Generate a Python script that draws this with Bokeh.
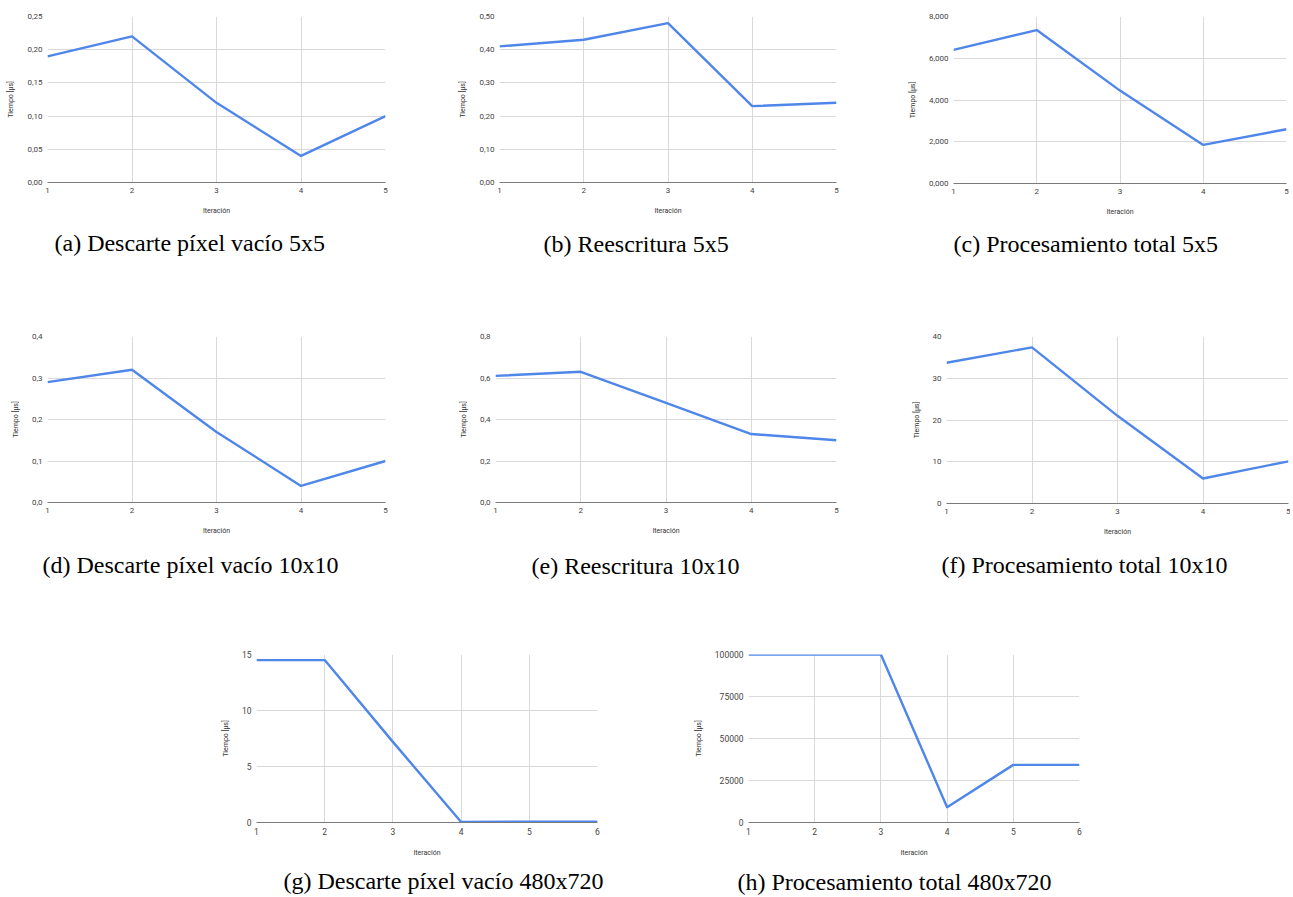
from bokeh.plotting import figure
from bokeh.models import Range1d, FixedTicker, Title
from bokeh.layouts import column, row
from bokeh.embed import file_html
from bokeh.resources import INLINE

# ---------------- data ----------------
iter5 = [1, 2, 3, 4, 5]
iter6 = [1, 2, 3, 4, 5, 6]

descarte_5x5 = [0.19, 0.22, 0.12, 0.04, 0.10]
reescritura_5x5 = [0.41, 0.43, 0.48, 0.23, 0.24]
total_5x5 = [6400, 7350, 4450, 1850, 2600]

descarte_10x10 = [0.29, 0.32, 0.17, 0.04, 0.10]
reescritura_10x10 = [0.61, 0.63, 0.48, 0.33, 0.30]
total_10x10 = [33.7, 37.4, 21.0, 6.0, 10.1]

descarte_480x720 = [14.5, 14.5, 7.2, 0.05, 0.07, 0.08]
total_480x720 = [100000, 100000, 100000, 9100, 34300, 34300]

yt_a = [0, 0.05, 0.10, 0.15, 0.20, 0.25]
yl_a = ["0,00", "0,05", "0,10", "0,15", "0,20", "0,25"]
yt_b = [0, 0.1, 0.2, 0.3, 0.4, 0.5]
yl_b = ["0,00", "0,10", "0,20", "0,30", "0,40", "0,50"]
yt_c = [0, 2000, 4000, 6000, 8000]
yl_c = ["0,000", "2,000", "4,000", "6,000", "8,000"]
yt_d = [0, 0.1, 0.2, 0.3, 0.4]
yl_d = ["0,0", "0,1", "0,2", "0,3", "0,4"]
yt_e = [0, 0.2, 0.4, 0.6, 0.8]
yl_e = ["0,0", "0,2", "0,4", "0,6", "0,8"]
yt_f = [0, 10, 20, 30, 40]
yl_f = ["0", "10", "20", "30", "40"]
yt_g = [0, 5, 10, 15]
yl_g = ["0", "5", "10", "15"]
yt_h = [0, 25000, 50000, 75000, 100000]
yl_h = ["0", "25000", "50000", "75000", "100000"]

captions = [
    "(a) Descarte píxel vacío 5x5",
    "(b) Reescritura 5x5",
    "(c) Procesamiento total 5x5",
    "(d) Descarte píxel vacío 10x10",
    "(e) Reescritura 10x10",
    "(f) Procesamiento total 10x10",
    "(g) Descarte píxel vacío 480x720",
    "(h) Procesamiento total 480x720",
]

XLABEL = "Iteración"
YLABEL = "Tiempo [µs]"
LINE = "#4f86ea"
GRID = "#d9d9d9"


def make_fig(xs, ys, yticks, ylabels, ymax, caption,
             left, fw, right, top, fh, bottom, cap_off, cap_standoff,
             tick_size="8px"):
    p = figure(output_backend="svg", toolbar_location=None,
               frame_width=fw, frame_height=fh,
               min_border_left=left, min_border_right=right,
               min_border_top=top, min_border_bottom=bottom,
               x_range=Range1d(xs[0], xs[-1]), y_range=Range1d(0, ymax),
               tools="")
    p.outline_line_color = None
    p.background_fill_color = "white"
    p.border_fill_color = "white"

    p.line(xs, ys, line_color=LINE, line_width=2.4, line_join="round")

    p.xaxis.ticker = FixedTicker(ticks=list(xs))
    p.yaxis.ticker = FixedTicker(ticks=list(yticks))
    p.yaxis.major_label_overrides = {t: l for t, l in zip(yticks, ylabels)}
    p.xaxis.major_label_overrides = {x: str(x) for x in xs}

    for ax in (p.xaxis[0], p.yaxis[0]):
        ax.major_tick_line_color = None
        ax.minor_tick_line_color = None
        ax.major_tick_out = 0
        ax.major_tick_in = 0
        ax.minor_tick_out = 0
        ax.minor_tick_in = 0
        ax.major_label_text_font = "Roboto"
        ax.major_label_text_font_size = tick_size
        ax.major_label_text_color = "#444444"
        ax.axis_label_text_font = "Roboto"
        ax.axis_label_text_font_size = "7px"
        ax.axis_label_text_font_style = "normal"
        ax.axis_label_text_color = "#333333"
    p.xaxis.major_label_standoff = 5
    p.yaxis.major_label_standoff = 5
    p.xaxis.axis_line_color = "#7a7a7a"
    p.xaxis.axis_line_width = 1
    p.yaxis.axis_line_color = None
    p.xaxis.axis_label = XLABEL
    p.yaxis.axis_label = YLABEL
    p.xaxis.axis_label_standoff = 11
    p.yaxis.axis_label_standoff = 9

    p.xgrid.ticker = FixedTicker(ticks=list(xs))
    p.ygrid.ticker = FixedTicker(ticks=list(yticks))
    p.xgrid.grid_line_color = GRID
    p.ygrid.grid_line_color = GRID

    t = Title(text=caption, align="left", offset=cap_off,
              text_font="Liberation Serif", text_font_size="24px",
              text_font_style="normal", text_color="black",
              standoff=cap_standoff)
    p.add_layout(t, "below")
    return p


# Row 1 (page y 0 -> 308)
pa = make_fig(iter5, descarte_5x5, yt_a, yl_a, 0.25, captions[0],
              47, 338, 35, 16, 166, 126, 7, 20)
pb = make_fig(iter5, reescritura_5x5, yt_b, yl_b, 0.5, captions[1],
              79, 337, 34, 14, 166, 128, 44, 22)
pc = make_fig(iter5, total_5x5, yt_c, yl_c, 8000, captions[2],
              83, 333, 4, 11, 167, 130, 0, 21)

# Row 2 (page y 308 -> 620)
pd = make_fig(iter5, descarte_10x10, yt_d, yl_d, 0.4, captions[3],
              47, 338, 35, 28, 166, 118, -5, 24)
pe = make_fig(iter5, reescritura_10x10, yt_e, yl_e, 0.8, captions[4],
              75, 341, 34, 26, 166, 120, 36, 26)
pf = make_fig(iter5, total_10x10, yt_f, yl_f, 40, captions[5],
              76, 342, 2, 28, 167, 117, -5, 23)

# Row 3 (page y 620 -> 897)
pg = make_fig(iter6, descarte_480x720, yt_g, yl_g, 15, captions[6],
              256, 341, 53, 34, 168, 75, 27, 13, tick_size="8.5px")
ph = make_fig(iter6, total_480x720, yt_h, yl_h, 100000, captions[7],
              98, 331, 10, 32, 168, 77, -11, 15, tick_size="8.5px")

layout = column(
    row(pa, pb, pc),
    row(pd, pe, pf),
    row(pg, ph),
)

open("out.html", "w").write(file_html(layout, INLINE))
